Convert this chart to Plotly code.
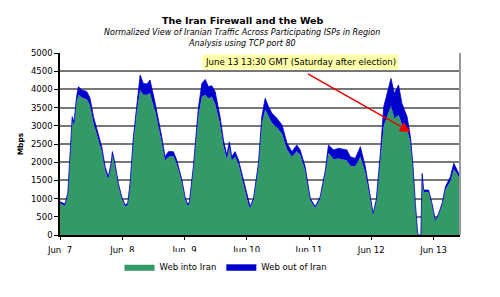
import pandas as pd
import plotly.graph_objects as go

# hours since Jun 7 2009 00:00 GMT
hours = [0, 1.9, 3.0, 3.9, 4.7, 5.4, 6.4, 7.1, 8.4, 10.3, 11.6, 12.9, 14.8, 16.1, 17.4, 18.6,
         19.7, 20.2, 21.2, 22.5, 23.8, 25.1, 26.1, 27.0, 28.3, 29.6, 30.9, 32.1, 33.6, 34.7,
         35.4, 36.7, 39.2, 40.5, 41.8, 43.7, 45.0, 47.0, 48.2, 49.0, 49.8, 51.4, 53.4, 54.7,
         56.0, 57.2, 58.5, 59.8, 61.7, 63.0, 64.3, 65.3, 66.2, 67.5, 68.8, 70.7, 72.7, 73.3,
         74.6, 76.5, 77.8, 79.1, 80.4, 81.7, 83.6, 85.6, 87.5, 89.4, 91.3, 92.6, 94.5, 96.5,
         98.4, 100.3, 102.3, 103.5, 105.5, 107.4, 110.6, 111.9, 113.8, 115.8, 117.7, 119.0,
         120.7, 121.9, 123.5, 124.8, 126.3, 127.6, 128.9, 130.5, 131.8, 133.8, 135.1, 136.1,
         137.0, 137.9, 138.4, 139.1, 139.6, 140.2, 142.1, 143.4, 144.7, 146.0, 147.3, 148.6,
         150.5, 151.8, 153.1, 154.2]

web_total = [915, 850, 1150, 2425, 3250, 3100, 3800, 4075, 3985, 3940, 3755, 3250, 2795, 2425, 1875, 1600,
             1970, 2290, 1970, 1420, 1050, 825, 870, 1420, 2700, 3620, 4395, 4165, 4150, 4260,
             4030, 3620, 2700, 2150, 2290, 2290, 2060, 1510, 1050, 880, 870, 1875, 3525, 4165,
             4275, 4075, 4100, 3940, 3250, 2610, 2200, 2560, 2150, 2290, 2060, 1510, 870, 780,
             1010, 1970, 3250, 3755, 3525, 3345, 3205, 3020, 2520, 2290, 2470, 2335, 1875, 1000,
             780, 1050, 1785, 2470, 2335, 2380, 2335, 2150, 2105, 2425, 1875, 1330,
             595, 960, 2245, 3525, 3985, 4300, 3890, 4120, 3620, 3250, 2700, 1875,
             870, 45, 0, 0, 1690, 1235, 1235, 870, 410, 595, 870, 1330,
             1600, 1970, 1785, 1600]

web_into = [870, 800, 1100, 2350, 3150, 3000, 3650, 3850, 3780, 3730, 3550, 3080, 2650, 2300, 1780, 1530,
            1900, 2200, 1900, 1370, 1000, 780, 820, 1360, 2550, 3400, 3980, 3850, 3850, 3900,
            3700, 3400, 2550, 2050, 2150, 2170, 1960, 1440, 1000, 830, 820, 1800, 3300, 3800,
            3850, 3750, 3800, 3600, 3050, 2450, 2080, 2400, 2050, 2150, 1950, 1430, 820, 740,
            960, 1880, 3050, 3450, 3250, 3080, 2950, 2780, 2350, 2150, 2300, 2200, 1780, 950,
            740, 1000, 1700, 2250, 2080, 2100, 2050, 1900, 1880, 2150, 1720, 1250,
            560, 900, 2050, 3000, 3300, 3550, 3200, 3300, 3050, 2900, 2550, 1800,
            850, 40, 0, 0, 1600, 1180, 1180, 830, 380, 560, 830, 1250,
            1480, 1800, 1680, 1500]

web_out = [t - i for t, i in zip(web_total, web_into)]

start = pd.Timestamp("2009-06-07 00:00")
times = [start + pd.Timedelta(hours=h) for h in hours]
x_end = start + pd.Timedelta(hours=154.2)
day_ticks = [start + pd.Timedelta(days=d) for d in range(7)]

GREEN = "#339966"
BLUE = "#0000CC"
FONT = "DejaVu Sans"

fig = go.Figure()
fig.add_trace(go.Scatter(x=times, y=web_into, name="Web into Iran", mode="lines",
                         line=dict(width=0, color=GREEN), fillcolor=GREEN, stackgroup="one"))
fig.add_trace(go.Scatter(x=times, y=web_out, name="Web out of Iran", mode="lines",
                         line=dict(width=0.8, color=BLUE), fillcolor=BLUE, stackgroup="one"))

fig.update_layout(
    width=500, height=297,
    margin=dict(l=60, r=40, t=53, b=62),
    paper_bgcolor="white", plot_bgcolor="white",
    font=dict(family=FONT, size=9, color="black"),
    showlegend=True,
    legend=dict(orientation="h", x=0.415, xanchor="center", y=-0.095, yanchor="top",
                font=dict(size=8.5), itemwidth=30, traceorder="normal", tracegroupgap=0),
    xaxis=dict(type="date", range=[start, x_end], tickvals=day_ticks, tickformat="%b %e",
               showgrid=False, showline=True, linecolor="black", linewidth=1.5,
               ticks="outside", ticklen=3, tickcolor="black", tickfont=dict(size=8.5),
               ticklabelstandoff=3, mirror=False, zeroline=False),
    yaxis=dict(range=[0, 5000], dtick=500, showgrid=True, gridcolor="#777777", gridwidth=1.5,
               showline=True, linecolor="black", linewidth=1.5, ticks="outside", ticklen=4,
               tickcolor="black", tickfont=dict(size=8.5), zeroline=False,
               title=dict(text="<b>Mbps</b>", font=dict(size=7.5), standoff=6)),
    shapes=[dict(type="line", xref="paper", yref="paper", x0=1, x1=1, y0=0, y1=1,
                 line=dict(color="#999999", width=2))],
    annotations=[
        dict(text="<b>The Iran Firewall and the Web</b>", xref="paper", yref="paper",
             x=0.455, y=1, yshift=33, yanchor="middle", showarrow=False, font=dict(size=9.5)),
        dict(text="<i>Normalized View of Iranian Traffic Across Participating ISPs in Region</i>",
             xref="paper", yref="paper", x=0.455, y=1, yshift=21, yanchor="middle",
             showarrow=False, font=dict(size=8)),
        dict(text="<i>Analysis using TCP port 80</i>", xref="paper", yref="paper",
             x=0.455, y=1, yshift=10, yanchor="middle", showarrow=False, font=dict(size=8)),
        dict(text="June 13 13:30 GMT (Saturday after election)", xref="paper", yref="paper",
             x=0.6, y=0.951, yanchor="middle", showarrow=False, bgcolor="#FFFFAA", borderpad=2,
             font=dict(size=8.6)),
        dict(text="", x=start + pd.Timedelta(hours=135.1), y=2830, ax=-104, ay=-59,
             showarrow=True, arrowcolor="#EE0000", arrowwidth=1.5, arrowhead=2,
             arrowsize=1.4),
    ],
)

fig.write_html("out.html")
